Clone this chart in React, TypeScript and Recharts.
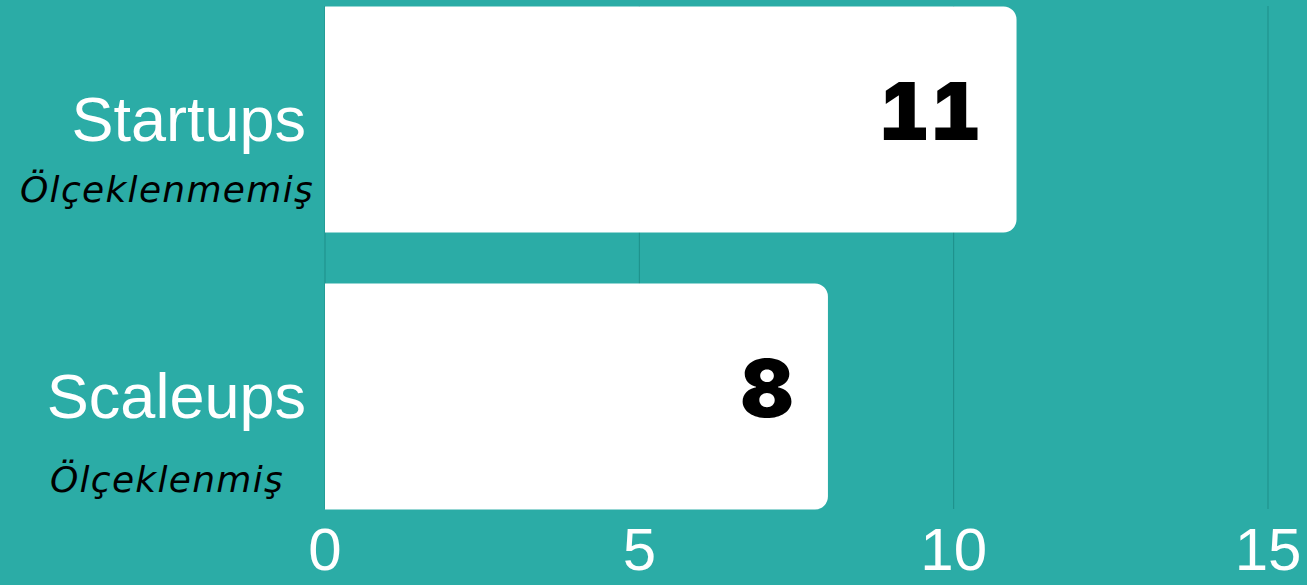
import React from 'react';
import { BarChart, Bar, XAxis, YAxis, CartesianGrid, LabelList } from 'recharts';

const categories = ['Startups', 'Scaleups'];
const subtitles = ['Ölçeklenmemiş', 'Ölçeklenmiş'];
const counts = [11, 8];
const xTicks = [0, 5, 10, 15];

const BG = '#2BACA6';
const GRID = '#1E8E89';

const data = categories.map((name, i) => ({ name, sub: subtitles[i], value: counts[i] }));

// subtitle baseline offsets below the row centre (second row sits a bit lower)
const subOffset = [83, 96];

const CategoryTick = (props: any) => {
  const { x, y, payload } = props;
  const i = categories.indexOf(payload.value);
  return (
    <g>
      <text
        x={x}
        y={y + 22}
        textAnchor="end"
        fill="#ffffff"
        fontSize={63}
        fontFamily="'Liberation Sans', Arial, sans-serif"
      >
        {payload.value}
      </text>
      <text
        x={x - 139}
        y={y + (subOffset[i] ?? 88)}
        textAnchor="middle"
        fill="#000000"
        fontSize={36}
        fontStyle="italic"
        fontFamily="'DejaVu Sans', sans-serif"
        letterSpacing={1.3}
      >
        {subtitles[i]}
      </text>
    </g>
  );
};

const ValueLabel = (props: any) => {
  const { x, y, width, height, value } = props;
  return (
    <text
      x={x + width - 35}
      y={y + height / 2 - 9}
      textAnchor="end"
      dominantBaseline="central"
      fill="#000000"
      fontSize={80}
      fontWeight={900}
      fontFamily="Inter, 'Noto Sans', sans-serif"
      style={{ fontVariantNumeric: 'tabular-nums' }}
    >
      {value}
    </text>
  );
};

export default function App() {
  return (
    <div style={{ position: 'absolute', left: 0, top: 0, width: 1307, height: 585, background: BG }}>
      <BarChart
        width={1307}
        height={585}
        data={data}
        layout="vertical"
        margin={{ top: 6, right: 39, bottom: 0, left: 0 }}
      >
        <CartesianGrid horizontal={false} stroke={GRID} strokeWidth={1} />
        <XAxis
          type="number"
          domain={[0, 15]}
          ticks={xTicks}
          height={76}
          axisLine={false}
          tickLine={false}
          tickSize={0}
          tickMargin={18}
          interval={0}
          tick={{ fill: '#ffffff', fontSize: 60, fontFamily: "'Liberation Sans', Arial, sans-serif" }}
        />
        <YAxis
          type="category"
          dataKey="name"
          width={325}
          axisLine={false}
          tickLine={false}
          tickSize={0}
          tickMargin={19}
          padding={{ top: -25.5, bottom: -25.5 }}
          tick={<CategoryTick />}
        />
        <Bar dataKey="value" fill="#ffffff" barSize={226} radius={[0, 13, 13, 0]} isAnimationActive={false}>
          <LabelList dataKey="value" content={<ValueLabel />} />
        </Bar>
      </BarChart>
    </div>
  );
}
